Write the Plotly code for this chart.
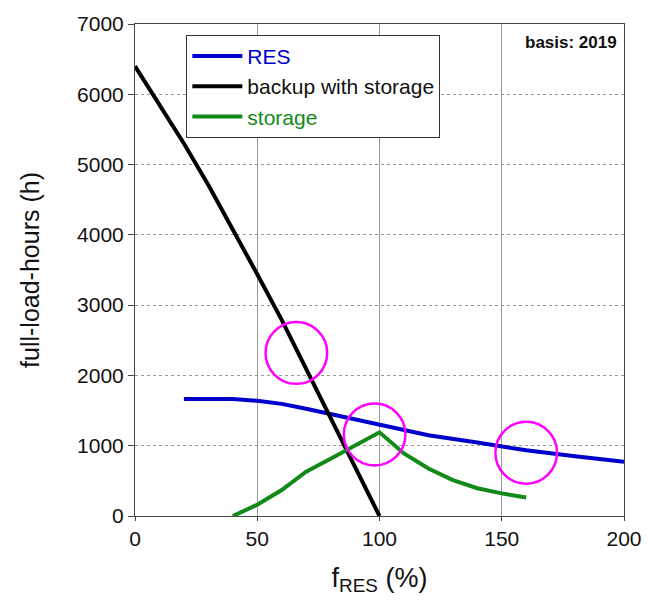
import plotly.graph_objects as go

# ---- data ----
res_x = [20, 40, 50, 60, 70, 80, 90, 100, 120, 140, 150, 160, 180, 200]
res_y = [1665, 1665, 1640, 1595, 1525, 1452, 1380, 1295, 1150, 1045, 990, 935, 850, 770]

backup_x = [0, 10, 20, 30, 40, 50, 60, 70, 80, 90, 100]
backup_y = [6400, 5850, 5300, 4710, 4080, 3440, 2790, 2100, 1400, 700, 0]

storage_x = [40, 50, 60, 70, 80, 90, 100, 110, 120, 130, 140, 150, 160]
storage_y = [0, 160, 370, 630, 815, 1000, 1190, 890, 675, 510, 395, 322, 262]

# highlight circles (centre x, centre y) in data units
circle_cx = [66, 98, 160]
circle_cy = [2320, 1160, 900]
circle_rx = 12.6
circle_ry = 440

x_ticks = [0, 50, 100, 150, 200]
y_ticks = [0, 1000, 2000, 3000, 4000, 5000, 6000, 7000]

FONT = "Arial, Liberation Sans, sans-serif"

fig = go.Figure()
fig.add_trace(go.Scatter(x=res_x, y=res_y, mode="lines",
                         line=dict(color="#0000CC", width=4),
                         name='<span style="color:#0000CC">RES</span>'))
fig.add_trace(go.Scatter(x=backup_x, y=backup_y, mode="lines",
                         line=dict(color="#000000", width=4),
                         name='backup with storage'))
fig.add_trace(go.Scatter(x=storage_x, y=storage_y, mode="lines",
                         line=dict(color="#118A18", width=4),
                         name='<span style="color:#118A18">storage</span>'))

for cx, cy in zip(circle_cx, circle_cy):
    fig.add_shape(type="circle", xref="x", yref="y",
                  x0=cx - circle_rx, x1=cx + circle_rx,
                  y0=cy - circle_ry, y1=cy + circle_ry,
                  line=dict(color="#FF00FF", width=2.5))

fig.add_annotation(text="<b>basis: 2019</b>", xref="paper", yref="paper",
                   x=0.99, y=0.985, xanchor="right", yanchor="top",
                   showarrow=False, font=dict(family=FONT, size=17, color="#111"))

fig.update_layout(
    width=654, height=615,
    margin=dict(l=135, r=24, t=21, b=99),
    paper_bgcolor="white", plot_bgcolor="white",
    font=dict(family=FONT, size=21, color="#111"),
    showlegend=True,
    legend=dict(x=0.105, y=0.978, xanchor="left", yanchor="top",
                bgcolor="white", bordercolor="#333", borderwidth=1,
                font=dict(family=FONT, size=21, color="#111"),
                itemwidth=50, tracegroupgap=0),
    xaxis=dict(range=[0, 200], tickvals=x_ticks, ticks="outside", ticklen=4,
               tickcolor="#444", showline=True, linecolor="#444", linewidth=1,
               mirror=True, showgrid=True, gridcolor="#999", gridwidth=1,
               zeroline=False, tickfont=dict(size=21),
               title=dict(text="f<sub>RES</sub> (%)", font=dict(size=27), standoff=18)),
    yaxis=dict(range=[0, 7000], tickvals=y_ticks, ticks="outside", ticklen=6,
               tickcolor="#444", showline=True, linecolor="#444", linewidth=1,
               mirror=True, showgrid=True, gridcolor="#999", gridwidth=1,
               griddash="dot", zeroline=False, tickfont=dict(size=21),
               title=dict(text="full-load-hours (h)", font=dict(size=25), standoff=30)),
)

fig.write_html("out.html")
